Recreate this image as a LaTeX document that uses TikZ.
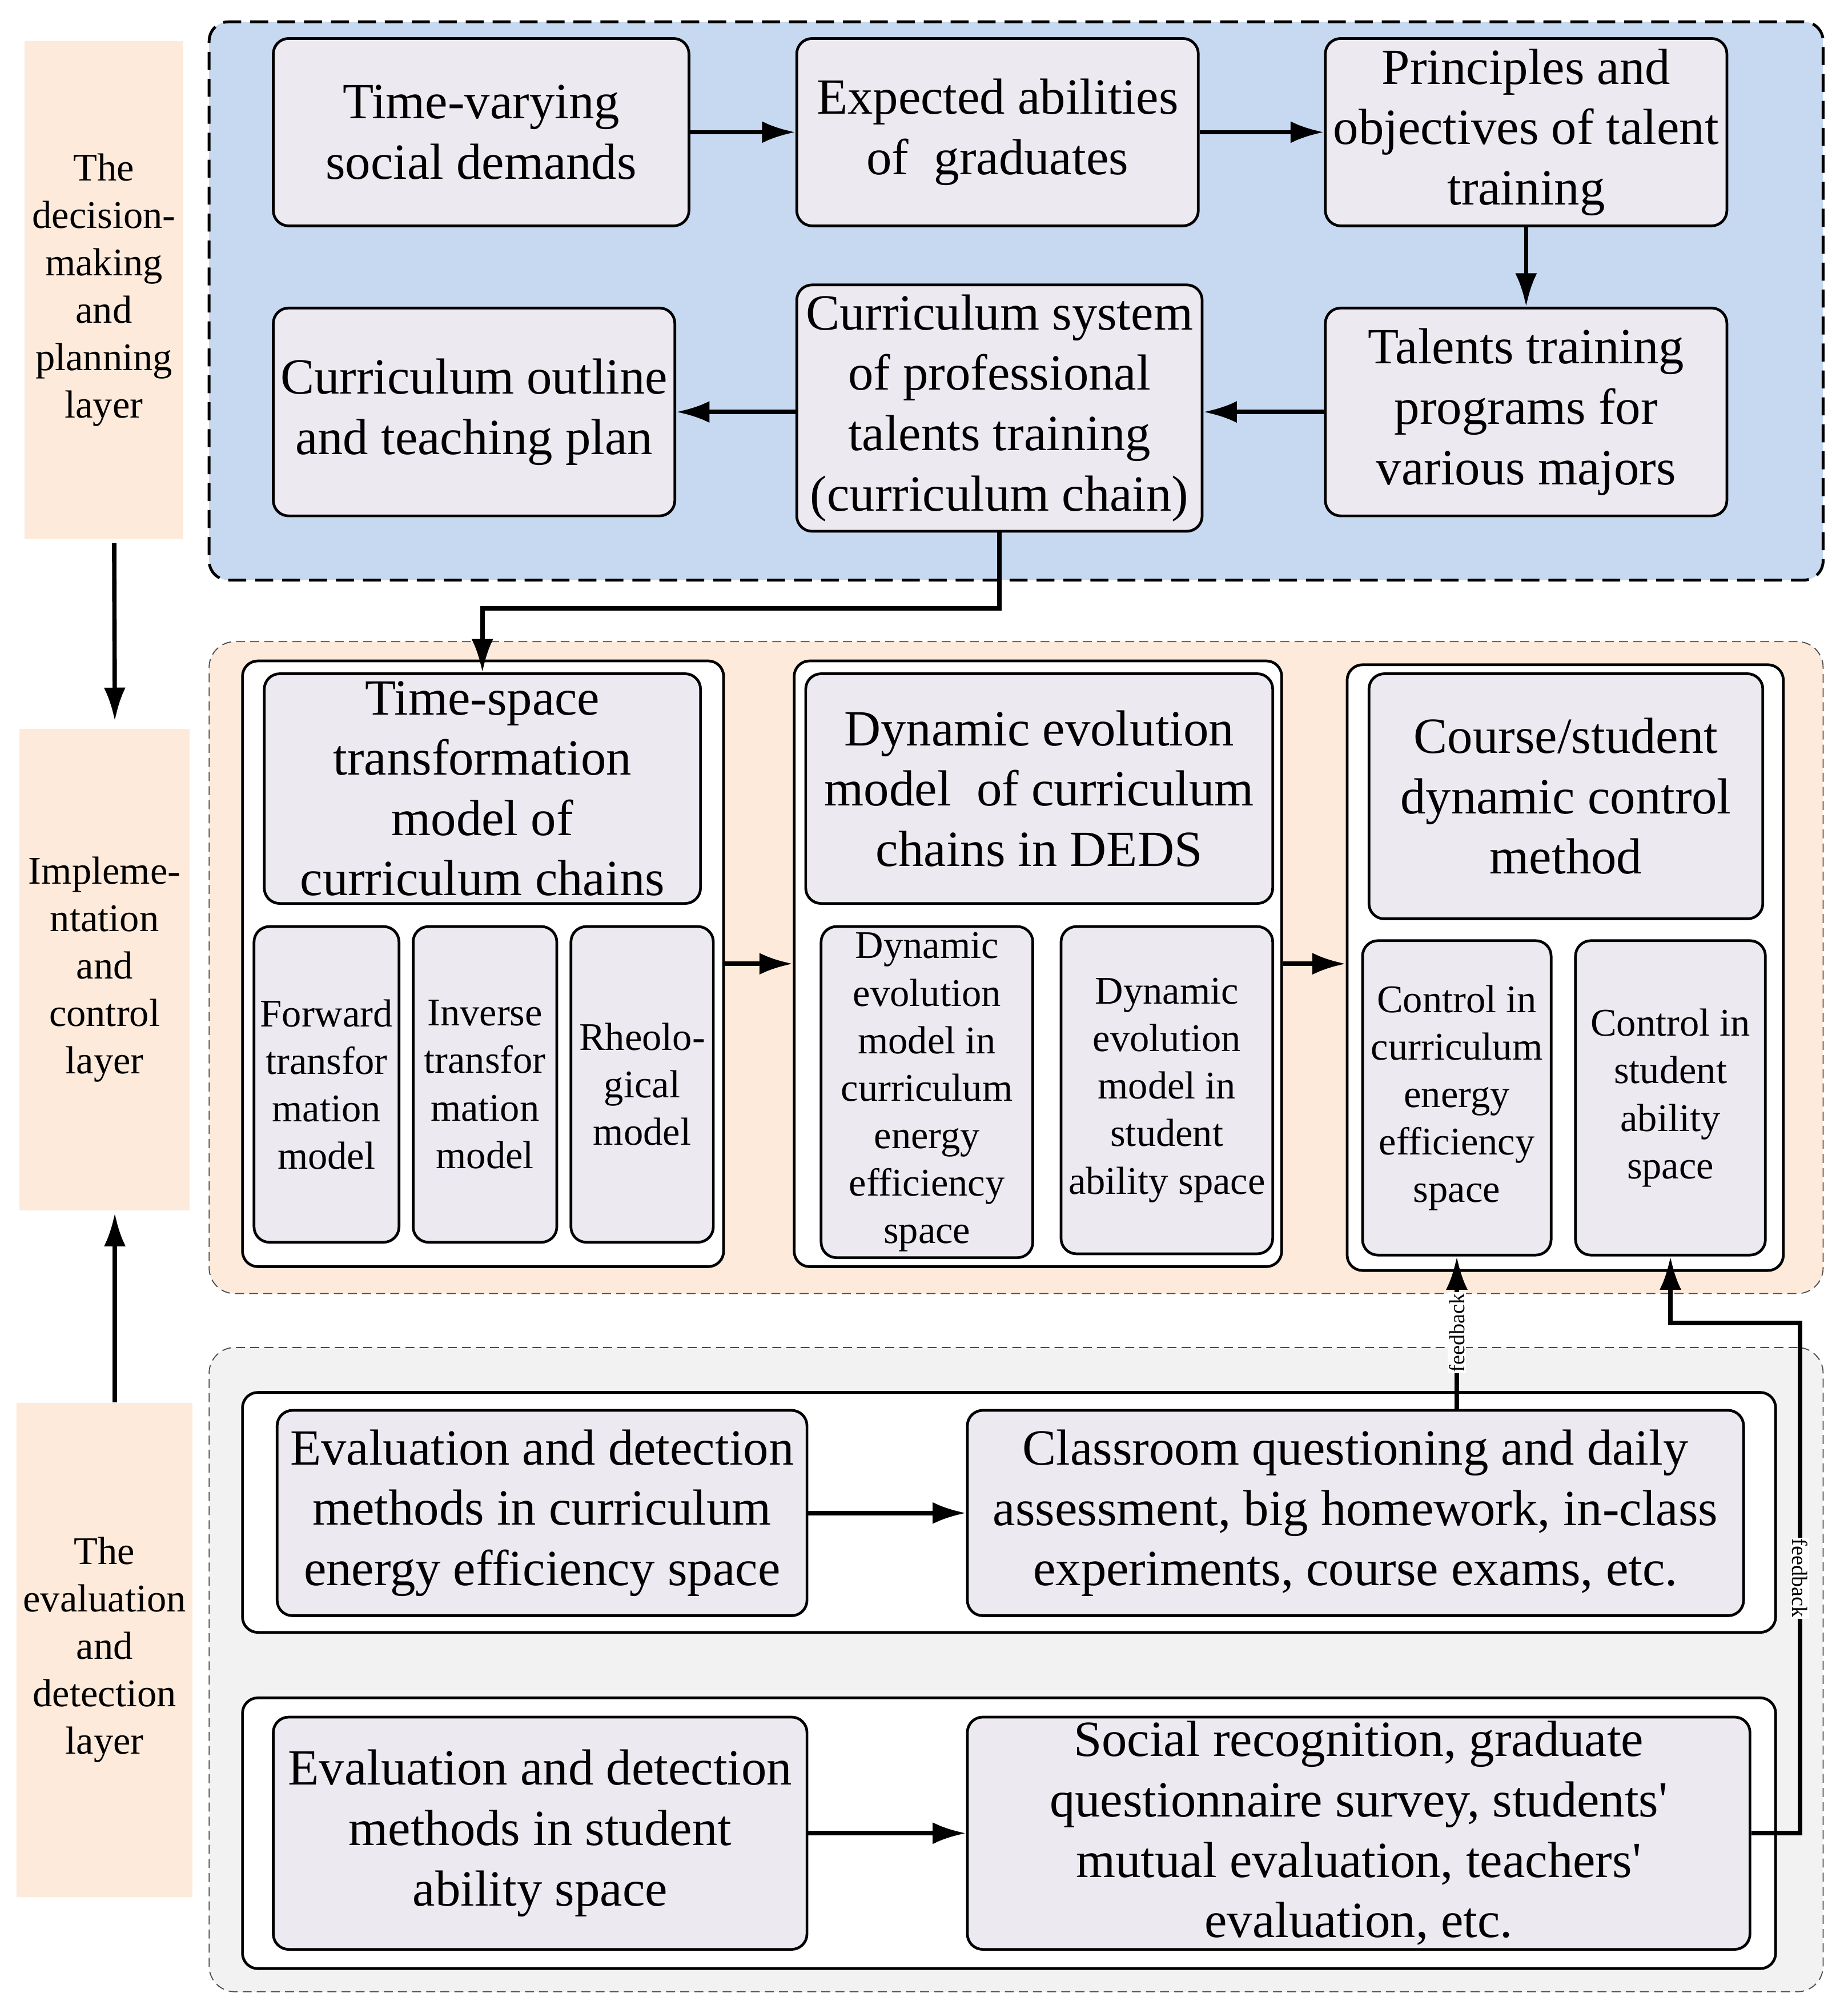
\documentclass[tikz,border=0pt]{standalone}
\usepackage{fontspec}
\setmainfont{Liberation Serif}
\usetikzlibrary{arrows.meta,calc}
\definecolor{bluepanel}{HTML}{C6D9F0}
\definecolor{peach}{HTML}{FDEADA}
\definecolor{greypanel}{HTML}{F2F2F2}
\definecolor{boxfill}{HTML}{ECE9F1}
\newcommand{\mainsize}{\fontsize{39.5}{47}\selectfont}
\newcommand{\subsize}{\fontsize{30.5}{37}\selectfont}
\newcommand{\fbsize}{\fontsize{17}{20}\selectfont}
\begin{document}
\begin{tikzpicture}[x=1pt,y=-1pt,
  box/.style={draw, line width=2.1pt, rounded corners=12pt, fill=boxfill, align=center, inner sep=0pt, font=\mainsize},
  sbox/.style={box, font=\subsize},
  grp/.style={draw, line width=2.1pt, rounded corners=12pt, fill=white, inner sep=0pt},
  layer/.style={fill=peach, align=center, inner sep=0pt, font=\subsize},
  toppanel/.style={fill=bluepanel, draw=black, line width=2.2pt, dash pattern=on 14pt off 7pt, rounded corners=15pt, inner sep=0pt},
  thinpanel/.style={draw=black!70, line width=0.8pt, dash pattern=on 7pt off 4pt, rounded corners=20pt, inner sep=0pt},
  arr/.style={line width=3.4pt, -{Latex[length=26pt,width=17pt]}},
  fb/.style={fill=white, font=\fbsize, inner sep=1pt},
]
\useasboundingbox (0,0) rectangle (1440,1568.6);

% layer labels
\node[layer, minimum width=124pt, minimum height=388pt] (L1) at (81,226) {The\\decision-\\making\\and\\planning\\layer};
\node[layer, minimum width=133pt, minimum height=375pt] (L2) at (81.5,755.5) {Impleme-\\ntation\\and\\control\\layer};
\node[layer, minimum width=137pt, minimum height=385pt] (L3) at (81.5,1285.5) {The\\evaluation\\and\\detection\\layer};

% panels
\node[toppanel, minimum width=1258pt, minimum height=435pt] (TP) at (792,234.5) {};
\node[thinpanel, fill=peach, minimum width=1258pt, minimum height=508pt] (MP) at (792,754) {};
\node[thinpanel, fill=greypanel, minimum width=1258pt, minimum height=502pt] (BP) at (792,1301) {};

% top boxes
\node[box, minimum width=324pt, minimum height=146pt] (A) at (375,103) {Time-varying\\social demands};
\node[box, minimum width=313pt, minimum height=146pt] (B) at (777.5,103) {Expected abilities\\of\ \ graduates};
\node[box, minimum width=313pt, minimum height=146pt] (C) at (1189.5,103) {Principles and\\objectives of talent\\training};
\node[box, minimum width=313pt, minimum height=162pt] (D) at (1189.5,321) {Talents training\\programs for\\various majors};
\node[box, minimum width=316pt, minimum height=192pt] (E) at (779,318) {Curriculum system\\of professional\\talents training\\(curriculum chain)};
\node[box, minimum width=313pt, minimum height=162pt] (F) at (369.5,321) {Curriculum outline\\and teaching plan};

% middle groups
\node[grp, minimum width=375pt, minimum height=472pt] (G1) at (376.5,751) {};
\node[box, minimum width=340pt, minimum height=179pt] (H1) at (376,614.5) {Time-space\\transformation\\model of\\curriculum chains};
\node[sbox, minimum width=113pt, minimum height=246pt] (S1) at (254.5,845) {Forward\\transfor\\mation\\model};
\node[sbox, minimum width=112pt, minimum height=246pt] (S2) at (378,845) {Inverse\\transfor\\mation\\model};
\node[sbox, minimum width=111pt, minimum height=246pt] (S3) at (500.5,845) {Rheolo-\\gical\\model};

\node[grp, minimum width=380pt, minimum height=472pt] (G2) at (809,751) {};
\node[box, minimum width=364pt, minimum height=179pt] (H2) at (810,614.5) {Dynamic evolution\\model\ \ of curriculum\\chains in DEDS};
\node[sbox, minimum width=165pt, minimum height=258pt] (S4) at (722.5,851) {Dynamic\\evolution\\model in\\curriculum\\energy\\efficiency\\space};
\node[sbox, minimum width=165pt, minimum height=255pt] (S5) at (909.5,849.5) {Dynamic\\evolution\\model in\\student\\ability space};

\node[grp, minimum width=340pt, minimum height=472pt] (G3) at (1220,754) {};
\node[box, minimum width=307pt, minimum height=191pt] (H3) at (1220.5,620.5) {Course/student\\dynamic control\\method};
\node[sbox, minimum width=147pt, minimum height=245pt] (S6) at (1135.5,855.5) {Control in\\curriculum\\energy\\efficiency\\space};
\node[sbox, minimum width=148pt, minimum height=245pt] (S7) at (1302,855.5) {Control in\\student\\ability\\space};

% bottom groups
\node[grp, minimum width=1195pt, minimum height=187pt] (G4) at (786.5,1178.5) {};
\node[box, minimum width=413pt, minimum height=160pt] (P1) at (422.5,1179) {Evaluation and detection\\methods in curriculum\\energy efficiency space};
\node[box, minimum width=605pt, minimum height=160pt] (Q1) at (1056.5,1179) {Classroom questioning and daily\\assessment, big homework, in-class\\experiments, course exams, etc.};

\node[grp, minimum width=1195pt, minimum height=211pt] (G5) at (786.5,1428.5) {};
\node[box, minimum width=416pt, minimum height=181pt] (P2) at (421,1428.5) {Evaluation and detection\\methods in student\\ability space};
\node[box, minimum width=610pt, minimum height=181pt] (Q2) at (1059,1428.5) {Social recognition, graduate\\questionnaire survey, students\textquotesingle\\mutual evaluation, teachers\textquotesingle\\evaluation, etc.};

% connectors
\draw[arr] ([xshift=8pt,yshift=-3pt]L1.south) -- ([xshift=8pt,yshift=6pt]L2.north);
\draw[arr] ([xshift=8pt]L3.north) -- ([xshift=8pt,yshift=-2pt]L2.south);

\draw[arr] (A.east) -- (B.west);
\draw[arr] (B.east) -- (C.west);
\draw[arr] (C.south) -- (D.north);
\draw[arr] (D.west) -- (E.east |- D.west);
\draw[arr] (E.west |- F.east) -- (F.east);

\coordinate (m1) at (779,474);
\draw[arr] (E.south) -- (E.south |- m1) -| (H1.north);

\draw[arr] (G1.east) -- (G2.west);
\draw[arr] (G2.east) -- (G2.east -| G3.west);

\draw[arr] (P1.east) -- (Q1.west);
\draw[arr] (P2.east) -- (Q2.west);

\draw[arr] (Q1.north -| S6.south) -- node[fb, rotate=90] {feedback} (S6.south);
\coordinate (k1) at (1403,1428.5);
\coordinate (k2) at (1403,1031);
\draw[arr] (Q2.east) -- (k1) -- node[fb, rotate=-90] {feedback} (k2) -| (S7.south);
\end{tikzpicture}
\end{document}
